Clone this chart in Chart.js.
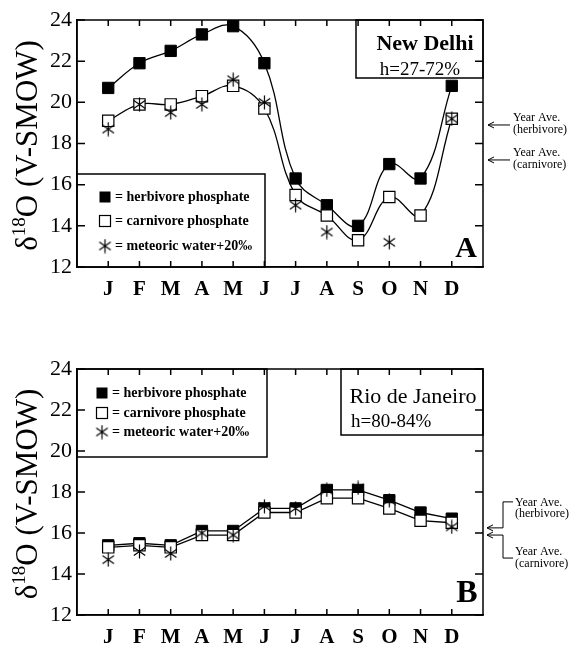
<!DOCTYPE html>
<html><head><meta charset="utf-8">
<script src="https://cdn.jsdelivr.net/npm/chart.js@4.4.1/dist/chart.umd.min.js"></script>
<style>
html,body{margin:0;padding:0;background:#fff;}
body{width:570px;height:647px;position:relative;overflow:hidden;}
canvas{position:absolute;left:0;}
#c1{top:0;} #c2{top:330px;}
</style></head>
<body>
<canvas id="c1" width="570" height="320"></canvas>
<canvas id="c2" width="570" height="317"></canvas>
<script>
// ---------- data ----------
const months = ['J','F','M','A','M','J','J','A','S','O','N','D'];
const yTickValues = [12,14,16,18,20,22,24];
const delhiHerbivore = [20.7,21.9,22.5,23.3,23.7,21.9,16.3,15.0,14.0,17.0,16.3,20.8];
const delhiCarnivore = [19.1,19.9,19.9,20.3,20.8,19.7,15.5,14.5,13.3,15.4,14.5,19.2];
const delhiMeteoric  = [18.7,19.9,19.5,19.9,21.1,20.0,15.0,13.7,null,13.2,null,19.2];
const delhiYearAve   = [18.9,17.2];
const rioHerbivore = [15.4,15.5,15.4,16.1,16.1,17.2,17.2,18.1,18.1,17.6,17.0,16.7];
const rioCarnivore = [15.3,15.4,15.3,15.9,15.9,17.0,17.0,17.7,17.7,17.2,16.6,16.5];
const rioMeteoric  = [14.7,15.1,15.0,16.0,15.9,17.3,17.2,18.1,18.2,17.6,null,16.3];
const rioYearAve   = [16.25,15.9];
const legendLabels = ['= herbivore phosphate','= carnivore phosphate','= meteoric water+20\u2030'];
const yearAveLabels = [['Year Ave.','(herbivore)'],['Year Ave.','(carnivore)']];
const delhiTitle = ['New Delhi','h=27-72%'];
const rioTitle = ['Rio de Janeiro','h=80-84%'];

const SERIF = '"Liberation Serif","Times New Roman",serif';

function makeStar(s){
  const c=document.createElement('canvas'); c.width=s; c.height=s;
  const g=c.getContext('2d'); g.strokeStyle='#000'; g.lineWidth=1.2;
  const r=s/2-0.5; g.translate(s/2,s/2); g.beginPath();
  for(const ang of [90,35,145]){
    const t=ang*Math.PI/180;
    g.moveTo(-r*Math.cos(t),-r*Math.sin(t)); g.lineTo(r*Math.cos(t),r*Math.sin(t));
  }
  g.stroke(); return c;
}
const star = makeStar(15);

function drawYTitle(ctx, a){
  ctx.save();
  ctx.translate(37,(a.top+a.bottom)/2+2);
  ctx.rotate(-Math.PI/2);
  ctx.fillStyle='#000'; ctx.textBaseline='alphabetic';
  const big='31px '+SERIF, small='19px '+SERIF;
  const parts=[['\u03b4',big,0],['18',small,-12],['O (V-SMOW)',big,0]];
  let tw=0;
  for(const p of parts){ctx.font=p[1]; p.w=ctx.measureText(p[0]).width; tw+=p.w;}
  let x=-tw/2;
  for(const p of parts){ctx.font=p[1]; ctx.fillText(p[0],x,p[2]); x+=p.w;}
  ctx.restore();
}

function drawFrame(chart){
  const ctx=chart.ctx,a=chart.chartArea,xs=chart.scales.x,ys=chart.scales.y;
  ctx.save(); ctx.strokeStyle='#000'; ctx.lineWidth=1.5;
  ctx.strokeRect(a.left,a.top,a.right-a.left,a.bottom-a.top);
  ctx.beginPath();
  for(let i=1;i<=months.length;i++){
    const x=xs.getPixelForValue(i);
    ctx.moveTo(x,a.top); ctx.lineTo(x,a.top+6);
    ctx.moveTo(x,a.bottom); ctx.lineTo(x,a.bottom-6);
  }
  for(const v of yTickValues){
    const y=ys.getPixelForValue(v);
    ctx.moveTo(a.right,y); ctx.lineTo(a.right-8,y);
    ctx.moveTo(a.left,y); ctx.lineTo(a.left+8,y);
  }
  ctx.stroke(); ctx.restore();
}

function drawLegend(ctx,x,y,w,h,rows,mx,tx){
  ctx.save(); ctx.fillStyle='#fff'; ctx.fillRect(x,y,w,h);
  ctx.strokeStyle='#000'; ctx.lineWidth=1.5; ctx.strokeRect(x,y,w,h);
  ctx.fillStyle='#000'; ctx.lineWidth=1.2;
  ctx.font='bold 14px '+SERIF; ctx.textBaseline='middle'; ctx.textAlign='left';
  ctx.fillRect(mx-5.5,rows[0]-5.5,11,11);
  ctx.fillStyle='#fff'; ctx.fillRect(mx-5.5,rows[1]-5.5,11,11);
  ctx.strokeRect(mx-5.5,rows[1]-5.5,11,11);
  ctx.drawImage(star,mx-star.width/2,rows[2]-star.height/2);
  ctx.fillStyle='#000';
  for(let i=0;i<3;i++) ctx.fillText(legendLabels[i],tx,rows[i]);
  ctx.restore();
}

function arrowLeft(ctx,x0,x1,y){
  ctx.beginPath(); ctx.moveTo(x1,y); ctx.lineTo(x0,y);
  ctx.moveTo(x0+6,y-3); ctx.lineTo(x0,y); ctx.lineTo(x0+6,y+3); ctx.stroke();
}

const delhiPlugin={id:'delhi',afterDatasetsDraw(chart){
  const ctx=chart.ctx,a=chart.chartArea,ys=chart.scales.y;
  drawLegend(ctx,a.left,a.bottom-93,188,93,[a.bottom-70,a.bottom-46,a.bottom-21],a.left+28,a.left+38);
  ctx.save();
  ctx.fillStyle='#fff'; ctx.fillRect(356,a.top,a.right-356,58);
  ctx.strokeStyle='#000'; ctx.lineWidth=1.5; ctx.strokeRect(356,a.top,a.right-356,58);
  ctx.restore();
  drawFrame(chart);
  drawYTitle(ctx,a);
  ctx.save();
  ctx.fillStyle='#000'; ctx.strokeStyle='#000'; ctx.textAlign='center'; ctx.textBaseline='alphabetic';
  ctx.font='bold 22px '+SERIF; ctx.fillText(delhiTitle[0],425,a.top+30);
  ctx.font='19px '+SERIF; ctx.fillText(delhiTitle[1],420,a.top+55);
  ctx.font='bold 30px '+SERIF; ctx.fillText('A',466,a.bottom-10);
  ctx.lineWidth=1; ctx.textAlign='left'; ctx.textBaseline='middle'; ctx.font='12px '+SERIF;
  delhiYearAve.forEach((v,i)=>{
    const y=ys.getPixelForValue(v);
    arrowLeft(ctx,a.right+5,a.right+27,y);
    ctx.fillText(yearAveLabels[i][0],a.right+30,y-7.5);
    ctx.fillText(yearAveLabels[i][1],a.right+30,y+4.5);
  });
  ctx.restore();
}};

const rioPlugin={id:'rio',afterDatasetsDraw(chart){
  const ctx=chart.ctx,a=chart.chartArea,ys=chart.scales.y;
  drawLegend(ctx,a.left,a.top,190,88,[a.top+24,a.top+44,a.top+63],a.left+25,a.left+35);
  ctx.save();
  ctx.fillStyle='#fff'; ctx.fillRect(341,a.top,a.right-341,66);
  ctx.strokeStyle='#000'; ctx.lineWidth=1.5; ctx.strokeRect(341,a.top,a.right-341,66);
  ctx.restore();
  drawFrame(chart);
  drawYTitle(ctx,a);
  ctx.save();
  ctx.fillStyle='#000'; ctx.strokeStyle='#000'; ctx.textBaseline='alphabetic';
  ctx.textAlign='center'; ctx.font='22px '+SERIF; ctx.fillText(rioTitle[0],413,a.top+34);
  ctx.textAlign='left'; ctx.font='19px '+SERIF; ctx.fillText(rioTitle[1],351,a.top+58);
  ctx.textAlign='center'; ctx.font='bold 32px '+SERIF; ctx.fillText('B',467,a.bottom-13);
  ctx.lineWidth=1; ctx.textAlign='left'; ctx.textBaseline='middle'; ctx.font='12px '+SERIF;
  const y1=ys.getPixelForValue(rioYearAve[0]), y2=ys.getPixelForValue(rioYearAve[1]);
  const bx=a.right+20;
  arrowLeft(ctx,a.right+4,bx,y1); arrowLeft(ctx,a.right+4,bx,y2);
  ctx.beginPath();
  ctx.moveTo(bx,y1); ctx.lineTo(bx,y1-26); ctx.lineTo(bx+10,y1-26);
  ctx.moveTo(bx,y2); ctx.lineTo(bx,y2+23); ctx.lineTo(bx+10,y2+23);
  ctx.stroke();
  ctx.fillText(yearAveLabels[0][0],a.right+32,y1-25);
  ctx.fillText(yearAveLabels[0][1],a.right+32,y1-14);
  ctx.fillText(yearAveLabels[1][0],a.right+32,y2+17);
  ctx.fillText(yearAveLabels[1][1],a.right+32,y2+29);
  ctx.restore();
}};

function makeChart(id, herb, carn, met, tension, xHeight, padBottom, padTop, plugin){
  const pts = arr => arr.map((v,i)=>({x:i+1,y:v}));
  return new Chart(document.getElementById(id),{
    type:'line',
    data:{datasets:[
      {data:pts(met),showLine:false,pointStyle:star,pointRadius:7,borderColor:'#000'},
      {data:pts(carn),borderColor:'#000',borderWidth:1.3,tension:tension,pointStyle:'rect',pointRadius:8,pointBorderWidth:1.2,pointBackgroundColor:'#fff',pointBorderColor:'#000'},
      {data:pts(herb),borderColor:'#000',borderWidth:1.3,tension:tension,pointStyle:'rect',pointRadius:8,pointBorderWidth:1,pointBackgroundColor:'#000',pointBorderColor:'#000'}
    ]},
    options:{
      responsive:false,animation:false,devicePixelRatio:1,
      layout:{padding:{left:0,right:87,top:padTop,bottom:padBottom}},
      plugins:{legend:{display:false},tooltip:{enabled:false}},
      scales:{
        x:{type:'linear',min:0,max:months.length+1,
          afterBuildTicks:s=>{s.ticks=months.map((m,i)=>({value:i+1}));},
          afterFit:s=>{s.height=xHeight;},
          grid:{drawOnChartArea:false,drawTicks:false},
          border:{display:true,color:'#000',width:1.5},
          ticks:{color:'#000',padding:10,maxRotation:0,autoSkip:false,font:{family:SERIF,size:21,weight:'bold'},callback:v=>months[v-1]||''}},
        y:{min:12,max:24,
          afterBuildTicks:s=>{s.ticks=yTickValues.map(v=>({value:v}));},
          afterFit:s=>{s.width=77;},
          grid:{drawOnChartArea:false,drawTicks:false},
          border:{display:true,color:'#000',width:1.5},
          ticks:{color:'#000',padding:5,font:{family:SERIF,size:22}}}
      }
    },
    plugins:[plugin]
  });
}

makeChart('c1',delhiHerbivore,delhiCarnivore,delhiMeteoric,0.4,40,13,20,delhiPlugin);
makeChart('c2',rioHerbivore,rioCarnivore,rioMeteoric,0,32,0,39,rioPlugin);
</script>
</body></html>
